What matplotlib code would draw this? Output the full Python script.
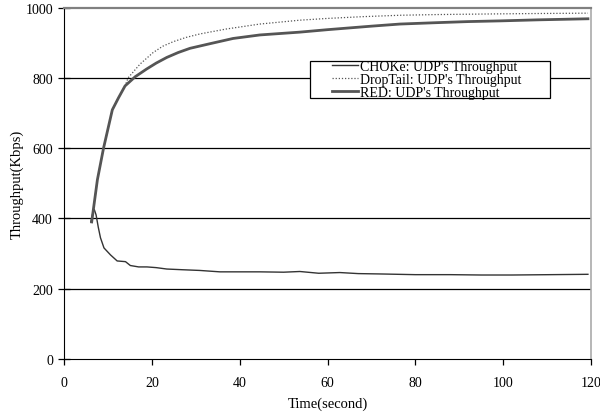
import matplotlib.pyplot as plt
from matplotlib.patches import Rectangle

plt.rcParams['font.family'] = ['Liberation Serif', 'DejaVu Serif']

# CHOKe: UDP's throughput (drops after start)
choke_t = [6.1, 6.6, 6.9, 7.3, 7.8, 8.3, 9.1, 10.6, 12.1, 14.0, 15.1, 17.0, 18.9, 21.0,
           23.4, 27.0, 30.9, 35.5, 40, 44.6, 50, 53.7, 58, 62.8, 67, 72, 80, 88,
           95, 102, 110.7, 119.3]
choke_v = [390, 418, 425, 410, 375, 345, 316, 296, 279, 277, 266, 262, 262, 260,
           256, 254, 252, 248, 248, 248, 247, 249, 244, 246, 243, 242, 240, 240,
           239, 239, 240, 241]

# RED: UDP's throughput
red_t = [6.3, 7.6, 9.0, 11.0, 12.4, 13.9, 16.2, 18.8, 21.0, 23.4, 26.0, 28.7, 33.2, 38.5,
         44.6, 53.7, 60, 70, 76.5, 85, 92, 99.3, 108, 119.3]
red_v = [390, 510, 600, 709, 743, 777, 803, 825, 842, 858, 872, 884, 897, 912,
         922, 930, 937, 947, 953, 957, 960, 962, 965, 968]

# DropTail: UDP's throughput
drop_t = [6.3, 7.6, 9.0, 11.0, 12.4, 13.9, 14.6, 17.3, 20.3, 22.5, 24.9, 27.8, 31.0, 37.0,
          44.6, 53.7, 60, 68, 76.5, 85, 92, 99.3, 108, 119.3]
drop_v = [390, 510, 600, 709, 743, 777, 800, 839, 872, 890, 903, 915, 925, 939,
          953, 964, 969, 974, 978, 980, 981, 982, 983, 984]

fig = plt.figure(figsize=(6, 4.14), dpi=100)
ax = fig.add_axes([0.1067, 0.1304, 0.8783, 0.849])

for y in [200, 400, 600, 800]:
    ax.axhline(y, color='black', lw=0.9, zorder=1)

ax.plot(choke_t, choke_v, color='#333333', lw=1.0, label="CHOKe: UDP's Throughput", zorder=3)
ax.plot(drop_t, drop_v, color='#555555', lw=0.9, linestyle=(0, (1, 1.5)),
        label="DropTail: UDP's Throughput", zorder=2)
ax.plot(red_t, red_v, color='#555555', lw=2.0, label="RED: UDP's Throughput", zorder=3)

ax.set_xlim(0, 120)
ax.set_ylim(0, 1000)
ax.set_xticks(range(0, 121, 20))
ax.set_yticks(range(0, 1001, 200))
ax.tick_params(axis='x', direction='out', length=4, width=0.9, labelsize=10, pad=8)
ax.tick_params(axis='y', direction='inout', length=8, width=0.9, labelsize=10, pad=4)

ax.spines['left'].set_color('black')
ax.spines['bottom'].set_color('black')
ax.spines['top'].set_color('#808080')
ax.spines['top'].set_linewidth(1.6)
ax.spines['right'].set_color('#aaaaaa')
ax.spines['right'].set_linewidth(1.2)

ax.set_xlabel('Time(second)', fontsize=10.5, labelpad=6)
ax.set_ylabel('Throughput(Kbps)', fontsize=10.5, labelpad=1)

# legend box drawn by hand, legend itself without frame
ax.add_patch(Rectangle((0.467, 0.742), 0.455, 0.106, transform=ax.transAxes,
                       facecolor='white', edgecolor='black', lw=0.9, zorder=4))
leg = ax.legend(loc='center left', bbox_to_anchor=(0.508, 0.795), fontsize=10,
                frameon=False, handlelength=1.9, handletextpad=0.15,
                labelspacing=0.0, borderpad=0, borderaxespad=0)
leg.set_zorder(5)

fig.savefig('out.png', dpi=100)
